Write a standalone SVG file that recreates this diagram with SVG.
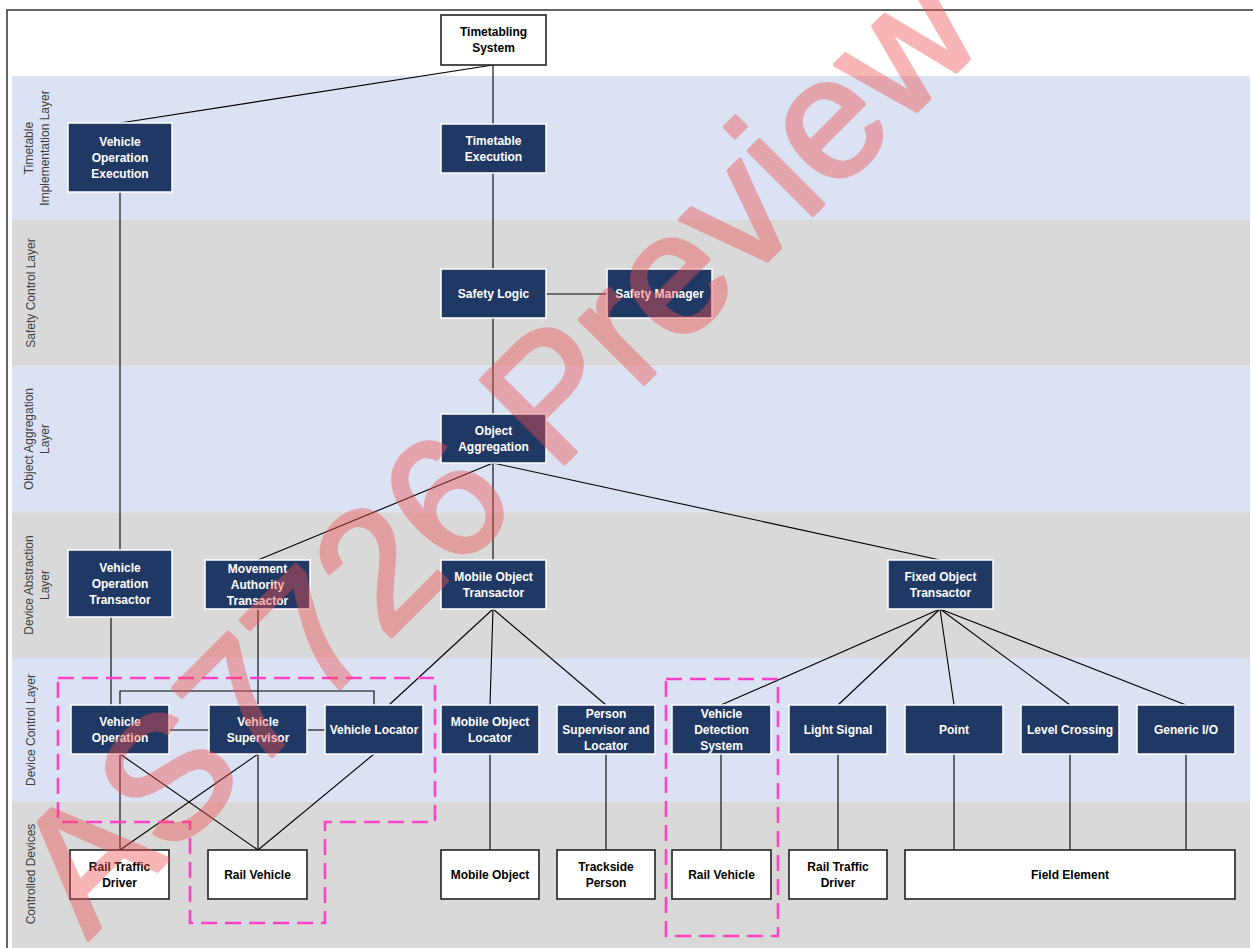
<svg xmlns="http://www.w3.org/2000/svg" width="1253" height="948" viewBox="0 0 1253 948">
<style>
.band-b{fill:#DAE2F3}
.band-g{fill:#D9D9D9}
.sep{stroke:#E6E6E6;stroke-width:1}
.lay{font-family:"Liberation Sans",Arial,sans-serif;font-size:12px;fill:#404040;text-anchor:middle}
.nav rect{fill:#1F3864;stroke:#FFFFFF;stroke-width:1.5}
.nav text{font-family:"Liberation Sans",Arial,sans-serif;font-size:12px;font-weight:bold;fill:#FFFFFF;text-anchor:middle}
.wht rect{fill:#FFFFFF;stroke:#222222;stroke-width:1.6}
.wht text{font-family:"Liberation Sans",Arial,sans-serif;font-size:12px;font-weight:bold;fill:#000000;text-anchor:middle}
.con line,.con polyline{stroke:#000;stroke-width:1.1;fill:none}
.dash{fill:none;stroke:#FF40C8;stroke-width:2.6;stroke-dasharray:16 8}
.wm{font-family:"Liberation Sans",Arial,sans-serif;font-size:172px;fill:#F05050;stroke:#F05050;stroke-width:4;stroke-linejoin:round}
</style>
<rect x="0" y="0" width="1253" height="948" fill="#FFFFFF"/>
<rect x="7" y="10" width="1260" height="960" fill="none" stroke="#333" stroke-width="1.5"/>
<g id="bands">
<rect class="band-b" x="12" y="76" width="1238" height="144"/>
<rect class="band-g" x="12" y="220" width="1238" height="146"/>
<rect class="band-b" x="12" y="366" width="1238" height="146"/>
<rect class="band-g" x="12" y="512" width="1238" height="146"/>
<rect class="band-b" x="12" y="658" width="1238" height="144"/>
<rect class="band-g" x="12" y="802" width="1238" height="146"/>
<line class="sep" x1="12" y1="366" x2="1250" y2="366"/>
<line class="sep" x1="12" y1="512" x2="1250" y2="512"/>
</g>
<g id="layer-labels">
<g transform="translate(37,148) rotate(-90)"><text class="lay" x="0" y="-4">Timetable</text><text class="lay" x="0" y="12">Implementation Layer</text></g>
<g transform="translate(31,293) rotate(-90)"><text class="lay" x="0" y="4">Safety Control Layer</text></g>
<g transform="translate(37,439) rotate(-90)"><text class="lay" x="0" y="-4">Object Aggregation</text><text class="lay" x="0" y="12">Layer</text></g>
<g transform="translate(37,585) rotate(-90)"><text class="lay" x="0" y="-4">Device Abstraction</text><text class="lay" x="0" y="12">Layer</text></g>
<g transform="translate(31,730) rotate(-90)"><text class="lay" x="0" y="4">Device Control Layer</text></g>
<g transform="translate(31,874) rotate(-90)"><text class="lay" x="0" y="4">Controlled Devices</text></g>
</g>
<g id="connectors" class="con">
<line x1="493" y1="65" x2="120" y2="123"/>
<line x1="493" y1="65" x2="493" y2="124"/>
<line x1="493" y1="173" x2="493" y2="269"/>
<line x1="546" y1="294" x2="607" y2="294"/>
<line x1="493" y1="318" x2="493" y2="414"/>
<line x1="120" y1="192" x2="120" y2="550"/>
<line x1="493" y1="463" x2="258" y2="560"/>
<line x1="493" y1="463" x2="493" y2="560"/>
<line x1="493" y1="463" x2="940" y2="560"/>
<line x1="111" y1="617" x2="111" y2="705"/>
<polyline points="120,705 120,691 374,691 374,705"/>
<line x1="258" y1="609" x2="258" y2="705"/>
<line x1="169" y1="730" x2="209" y2="730"/>
<line x1="307" y1="730" x2="325" y2="730"/>
<line x1="493" y1="609" x2="389" y2="705"/>
<line x1="493" y1="609" x2="490" y2="705"/>
<line x1="493" y1="609" x2="606" y2="705"/>
<line x1="940" y1="609" x2="721" y2="705"/>
<line x1="940" y1="609" x2="838" y2="705"/>
<line x1="940" y1="609" x2="954" y2="705"/>
<line x1="940" y1="609" x2="1070" y2="705"/>
<line x1="940" y1="609" x2="1186" y2="705"/>
<line x1="120" y1="754" x2="120" y2="850"/>
<line x1="120" y1="754" x2="258" y2="850"/>
<line x1="258" y1="754" x2="120" y2="850"/>
<line x1="258" y1="754" x2="258" y2="850"/>
<line x1="374" y1="754" x2="258" y2="850"/>
<line x1="490" y1="754" x2="490" y2="850"/>
<line x1="606" y1="754" x2="606" y2="850"/>
<line x1="721" y1="754" x2="721" y2="850"/>
<line x1="838" y1="754" x2="838" y2="850"/>
<line x1="954" y1="754" x2="954" y2="850"/>
<line x1="1070" y1="754" x2="1070" y2="850"/>
<line x1="1186" y1="754" x2="1186" y2="850"/>
</g>
<g id="ts" class="wht"><rect x="441" y="15" width="105" height="50"/><text x="493.5" y="36">Timetabling</text><text x="493.5" y="52">System</text></g>
<g id="voe" class="nav"><rect x="68" y="123" width="104" height="69"/><text x="120" y="146">Vehicle</text><text x="120" y="162">Operation</text><text x="120" y="178">Execution</text></g>
<g id="te" class="nav"><rect x="441" y="124" width="105" height="49"/><text x="493.5" y="145">Timetable</text><text x="493.5" y="161">Execution</text></g>
<g id="sl" class="nav"><rect x="441" y="269" width="105" height="49"/><text x="493.5" y="298">Safety Logic</text></g>
<g id="sm" class="nav"><rect x="607" y="269" width="105" height="49"/><text x="659.5" y="298">Safety Manager</text></g>
<g id="oa" class="nav"><rect x="441" y="414" width="105" height="49"/><text x="493.5" y="435">Object</text><text x="493.5" y="451">Aggregation</text></g>
<g id="vot" class="nav"><rect x="68" y="550" width="104" height="67"/><text x="120" y="572">Vehicle</text><text x="120" y="588">Operation</text><text x="120" y="604">Transactor</text></g>
<g id="mat" class="nav"><rect x="205" y="560" width="105" height="49"/><text x="257.5" y="573">Movement</text><text x="257.5" y="589">Authority</text><text x="257.5" y="605">Transactor</text></g>
<g id="mot" class="nav"><rect x="441" y="560" width="105" height="49"/><text x="493.5" y="581">Mobile Object</text><text x="493.5" y="597">Transactor</text></g>
<g id="fot" class="nav"><rect x="888" y="560" width="105" height="49"/><text x="940.5" y="581">Fixed Object</text><text x="940.5" y="597">Transactor</text></g>
<g id="vo" class="nav"><rect x="71" y="705" width="98" height="49"/><text x="120" y="726">Vehicle</text><text x="120" y="742">Operation</text></g>
<g id="vs" class="nav"><rect x="209" y="705" width="98" height="49"/><text x="258" y="726">Vehicle</text><text x="258" y="742">Supervisor</text></g>
<g id="vl" class="nav"><rect x="325" y="705" width="98" height="49"/><text x="374" y="734">Vehicle Locator</text></g>
<g id="mol" class="nav"><rect x="441" y="705" width="98" height="49"/><text x="490" y="726">Mobile Object</text><text x="490" y="742">Locator</text></g>
<g id="psl" class="nav"><rect x="557" y="705" width="98" height="49"/><text x="606" y="718">Person</text><text x="606" y="734">Supervisor and</text><text x="606" y="750">Locator</text></g>
<g id="vds" class="nav"><rect x="672" y="705" width="99" height="49"/><text x="721.5" y="718">Vehicle</text><text x="721.5" y="734">Detection</text><text x="721.5" y="750">System</text></g>
<g id="ls" class="nav"><rect x="789" y="705" width="98" height="49"/><text x="838" y="734">Light Signal</text></g>
<g id="pt" class="nav"><rect x="905" y="705" width="98" height="49"/><text x="954" y="734">Point</text></g>
<g id="lc" class="nav"><rect x="1021" y="705" width="98" height="49"/><text x="1070" y="734">Level Crossing</text></g>
<g id="gio" class="nav"><rect x="1137" y="705" width="98" height="49"/><text x="1186" y="734">Generic I/O</text></g>
<g id="rtd1" class="wht"><rect x="70" y="850" width="99" height="49"/><text x="119.5" y="871">Rail Traffic</text><text x="119.5" y="887">Driver</text></g>
<g id="rv1" class="wht"><rect x="208" y="850" width="99" height="49"/><text x="257.5" y="879">Rail Vehicle</text></g>
<g id="mo" class="wht"><rect x="441" y="850" width="98" height="49"/><text x="490" y="879">Mobile Object</text></g>
<g id="tp" class="wht"><rect x="557" y="850" width="98" height="49"/><text x="606" y="871">Trackside</text><text x="606" y="887">Person</text></g>
<g id="rv2" class="wht"><rect x="672" y="850" width="99" height="49"/><text x="721.5" y="879">Rail Vehicle</text></g>
<g id="rtd2" class="wht"><rect x="789" y="850" width="98" height="49"/><text x="838" y="871">Rail Traffic</text><text x="838" y="887">Driver</text></g>
<g id="fe" class="wht"><rect x="905" y="850" width="330" height="49"/><text x="1070" y="879">Field Element</text></g>
<g id="boundaries">
<polygon class="dash" points="58,678 435,678 435,822 325,822 325,923 190,923 190,822 58,822"/>
<rect class="dash" x="666" y="679" width="112" height="257"/>
</g>
<g id="watermark" opacity="0.42">
<text class="wm" transform="translate(88,940) rotate(-45)">AS7726 Preview</text>
</g>
</svg>
